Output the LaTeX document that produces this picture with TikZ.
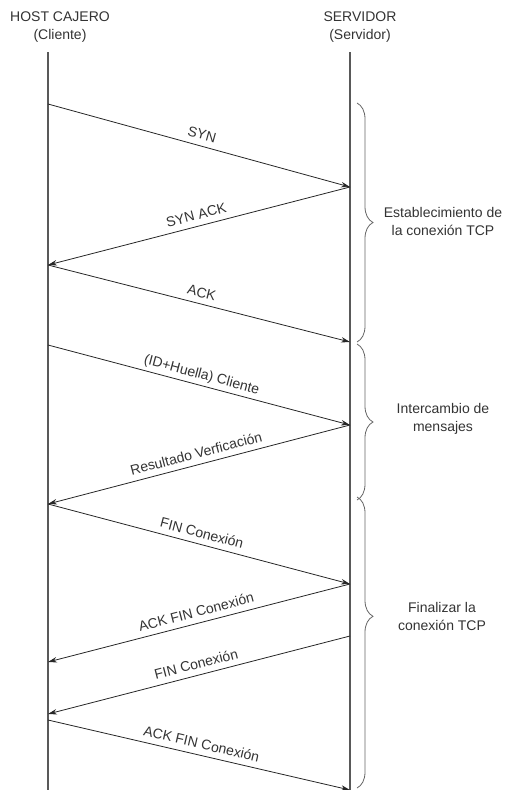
\documentclass[tikz,border=0pt]{standalone}
\usepackage{fontspec}
\setmainfont{Liberation Sans}
\usetikzlibrary{arrows.meta,decorations.pathreplacing}

\begin{document}
\begin{tikzpicture}[x=1pt,y=-1pt,
    font=\fontsize{14}{18}\selectfont,
    texto/.style={text=black!80,align=center},
    vida/.style={draw=black!65,line width=1.2pt},
    msg/.style={draw=black!85,line width=0.8pt,-{Stealth[length=9pt,width=5.5pt]}},
    etiq/.style={sloped,above,pos=0.5,inner xsep=1pt,inner ysep=6pt,text depth=0pt,text=black!80},
    llave/.style={draw=black!60,line width=0.8pt,decorate,decoration={brace,amplitude=16pt}}]

        \useasboundingbox (0,0) rectangle (504,790);

        % cabeceras
        \node[texto] (host) at (60,27.5) {HOST CAJERO\\(Cliente)};
        \node[texto] (serv) at (360,27.5) {SERVIDOR\\(Servidor)};

        % lineas de vida
        \coordinate (hostini) at (48,52);
        \coordinate (hostfin) at (48,790);
        \coordinate (servini) at (350,52);
        \coordinate (servfin) at (350,790);
        \draw[vida] (hostini) -- (hostfin);
        \draw[vida] (servini) -- (servfin);

        % puntos de los mensajes
        \coordinate (h1) at (48,104);
        \coordinate (h2) at (48,265);
        \coordinate (h3) at (48,345);
        \coordinate (h4) at (48,504);
        \coordinate (h5) at (48,662);
        \coordinate (h6) at (48,714);
        \coordinate (h7) at (48,720);

        \coordinate (s1) at (350,187);
        \coordinate (s2) at (350,342);
        \coordinate (s3) at (350,425);
        \coordinate (s4) at (350,584);
        \coordinate (s5) at (350,636);
        \coordinate (s6) at (350,790);

        % mensajes
        \draw[msg] (h1) -- node[etiq] (m1) {SYN} (s1);
        \draw[msg] (s1) -- node[etiq] (m2) {SYN ACK} (h2);
        \draw[msg] (h2) -- node[etiq] (m3) {ACK} (s2);
        \draw[msg] (h3) -- node[etiq] (m4) {(ID+Huella) Cliente} (s3);
        \draw[msg] (s3) -- node[etiq] (m5) {Resultado Verficación} (h4);
        \draw[msg] (h4) -- node[etiq] (m6) {FIN Conexión} (s4);
        \draw[msg] (s4) -- node[etiq] (m7) {ACK FIN Conexión} (h5);
        \draw[msg] (s5) -- node[etiq] (m8) {FIN Conexión} (h6);
        \draw[msg] (h7) -- node[etiq] (m9) {ACK FIN Conexión} (s6);

        % fases
        \coordinate (f1a) at (357,103);
        \coordinate (f1b) at (357,342);
        \coordinate (f2a) at (357,344);
        \coordinate (f2b) at (357,500);
        \coordinate (f3a) at (357,497);
        \coordinate (f3b) at (357,788);
        \draw[llave] (f1a) -- (f1b);
        \draw[llave] (f2a) -- (f2b);
        \draw[llave,decoration={aspect=0.41}] (f3a) -- (f3b);

        \node[texto] (fase1) at (443,221) {Establecimiento de\\la conexión TCP};
        \node[texto] (fase2) at (443,418.5) {Intercambio de\\mensajes};
        \node[texto] (fase3) at (442,616) {Finalizar la\\conexión TCP};
    \end{tikzpicture}
\end{document}
